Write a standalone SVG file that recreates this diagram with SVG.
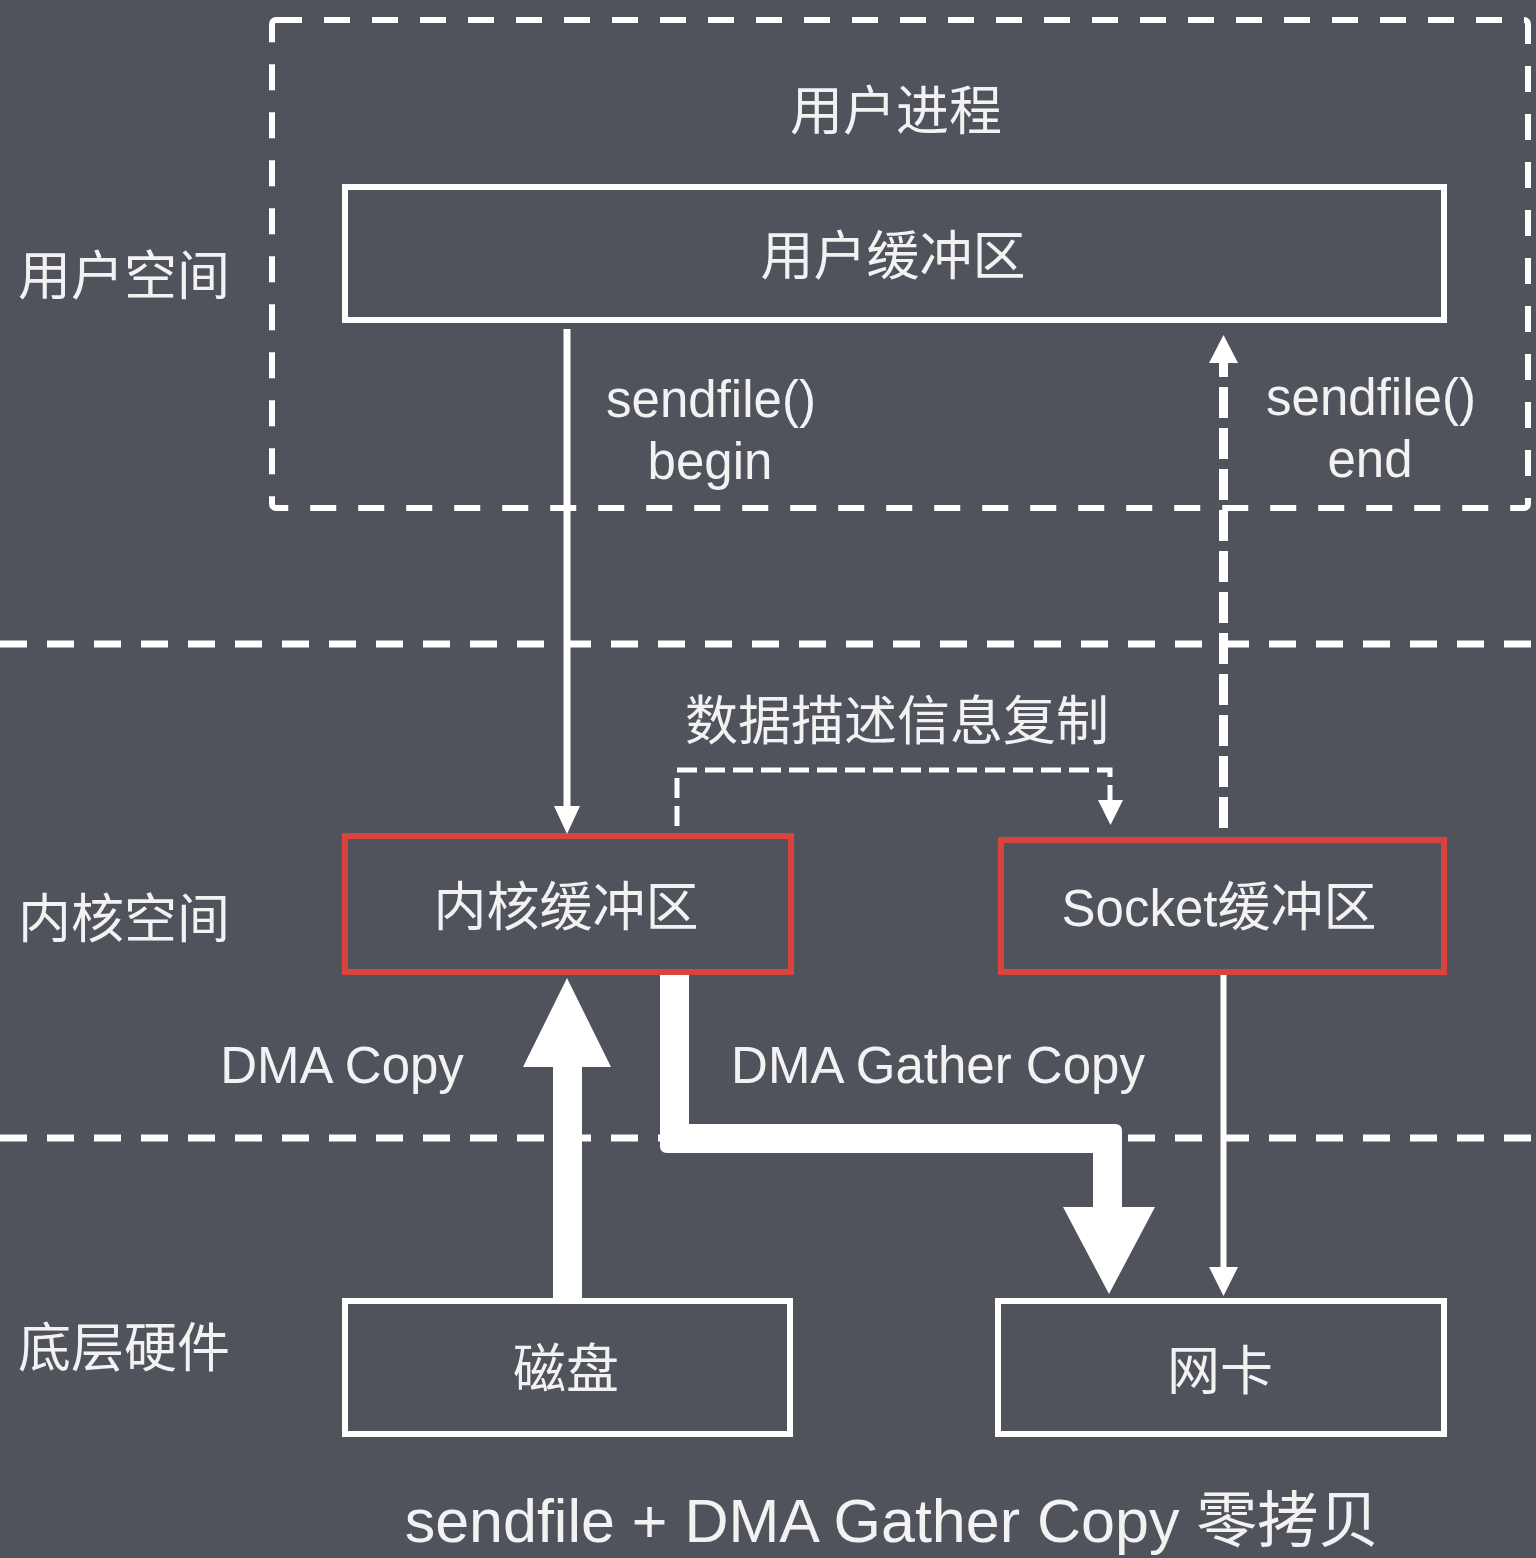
<svg xmlns="http://www.w3.org/2000/svg" width="1536" height="1558" viewBox="0 0 1536 1558">
<style>
.t{fill:#f2f2f2;font-family:"Liberation Sans","Noto Sans CJK SC",sans-serif;}
.cjk{font-size:53px;}
.lat{font-size:51px;}
.box{fill:none;stroke:#ffffff;stroke-width:6;}
.red{fill:none;stroke:#d8433d;stroke-width:6;}
.sep{stroke:#ffffff;stroke-width:7;stroke-dasharray:27 20;fill:none;}
</style>
<rect x="0" y="0" width="1536" height="1558" fill="#50525c"/>

<g id="separators">
<rect x="272" y="20" width="1256" height="488" rx="4" fill="none" stroke="#ffffff" stroke-width="6" stroke-dasharray="26 22"/>
<line class="sep" x1="0" y1="644" x2="1536" y2="644"/>
<line class="sep" x1="0" y1="1138" x2="1536" y2="1138"/>
</g>

<g id="layer-labels">
<text class="t cjk" x="18" y="295">用户空间</text>
<text class="t cjk" x="18" y="938">内核空间</text>
<text class="t cjk" x="18" y="1367">底层硬件</text>
<text class="t cjk" x="896" y="130" text-anchor="middle">用户进程</text>
</g>

<g id="node-user-buffer">
<rect class="box" x="345" y="187" width="1099" height="133"/>
<text class="t cjk" x="893" y="275" text-anchor="middle">用户缓冲区</text>
</g>

<g id="node-kernel-buffer">
<rect class="red" x="345" y="836" width="446" height="136"/>
<text class="t cjk" x="566" y="926" text-anchor="middle">内核缓冲区</text>
</g>

<g id="node-socket-buffer">
<rect class="red" x="1001" y="840" width="443" height="132"/>
<text class="t" x="1219" y="926" text-anchor="middle"><tspan class="lat">Socket</tspan><tspan class="cjk">缓冲区</tspan></text>
</g>

<g id="node-disk">
<rect class="box" x="345" y="1301" width="445" height="133"/>
<text class="t cjk" x="566" y="1388" text-anchor="middle">磁盘</text>
</g>

<g id="node-nic">
<rect class="box" x="998" y="1301" width="446" height="133"/>
<text class="t cjk" x="1220" y="1390" text-anchor="middle">网卡</text>
</g>

<g id="connectors">
<line x1="567" y1="329" x2="567" y2="808" stroke="#ffffff" stroke-width="7"/>
<polygon points="554,806 580,806 567,834" fill="#ffffff"/>
<line x1="1223.5" y1="828" x2="1223.5" y2="360" stroke="#ffffff" stroke-width="9" stroke-dasharray="31 10"/>
<polygon points="1209,363 1238,363 1223.5,335" fill="#ffffff"/>
<path d="M677 826 V770 H1110 V800" fill="none" stroke="#ffffff" stroke-width="5" stroke-dasharray="20 8"/>
<polygon points="1098,800 1123,800 1110.5,825" fill="#ffffff"/>
<path d="M553 1300 V1067 H523 L567 978 L611 1067 H582 V1300 Z" fill="#ffffff"/>
<path d="M660 975 H689 V1124 H1115 Q1122 1124 1122 1131 V1207 H1155 L1109 1294 L1063 1207 H1093 V1153 H667 Q660 1153 660 1146 Z" fill="#ffffff"/>
<line x1="1223.5" y1="975" x2="1223.5" y2="1270" stroke="#ffffff" stroke-width="6"/>
<polygon points="1209,1267 1238,1267 1223.5,1296" fill="#ffffff"/>
</g>

<g id="connector-labels">
<text class="t lat" x="711" y="417" text-anchor="middle">sendfile()</text>
<text class="t lat" x="710" y="479" text-anchor="middle">begin</text>
<text class="t lat" x="1371" y="415" text-anchor="middle">sendfile()</text>
<text class="t lat" x="1370" y="477" text-anchor="middle">end</text>
<text class="t cjk" x="897" y="740" text-anchor="middle">数据描述信息复制</text>
<text class="t lat" x="342" y="1083" text-anchor="middle">DMA Copy</text>
<text class="t lat" x="938" y="1083" text-anchor="middle">DMA Gather Copy</text>
</g>

<text class="t" x="892" y="1542" text-anchor="middle" font-size="61">sendfile + DMA Gather Copy 零拷贝</text>
</svg>
